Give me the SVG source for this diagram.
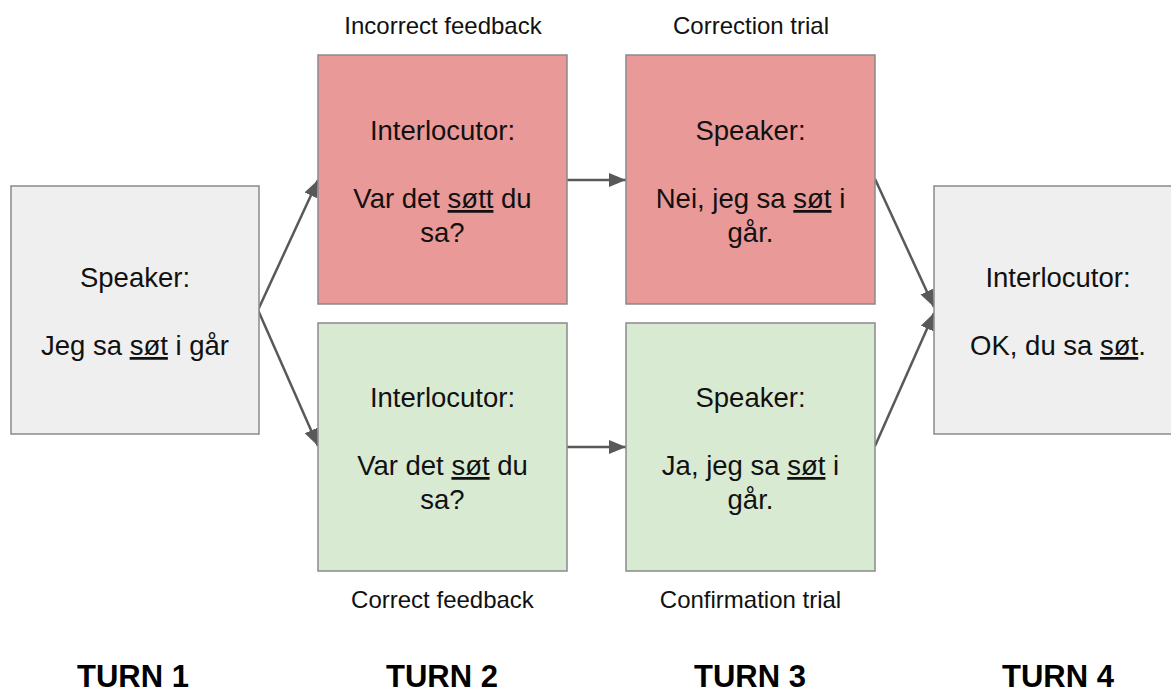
<svg xmlns="http://www.w3.org/2000/svg" width="1171" height="692" viewBox="0 0 1171 692">
<style>
.box{stroke:#8a8a8a;stroke-width:1.5}
.gray{fill:#efefef}
.red{fill:#ea9999}
.green{fill:#d9ead3}
.t{font-family:"Liberation Sans",Arial,sans-serif;font-size:27.5px;fill:#111;text-anchor:middle}
.lab{font-family:"Liberation Sans",Arial,sans-serif;font-size:24px;fill:#111;text-anchor:middle}
.turn{font-family:"Liberation Sans",Arial,sans-serif;font-size:31px;font-weight:bold;fill:#000;text-anchor:middle}
.u{text-decoration:underline}
.c{stroke:#595959;stroke-width:2.5;fill:none;marker-end:url(#ah)}
</style>
<defs>
<marker id="ah" markerUnits="userSpaceOnUse" markerWidth="18" markerHeight="16" refX="17" refY="7" orient="auto">
<path d="M0,0 L17,7 L0,14 Z" fill="#595959"/>
</marker>
</defs>
<rect width="1171" height="692" fill="#fff"/>
<g id="connectors">
<line class="c" x1="258" y1="310" x2="318" y2="180"/>
<line class="c" x1="258" y1="310" x2="318" y2="446"/>
<line class="c" x1="567" y1="180" x2="626" y2="180"/>
<line class="c" x1="567" y1="447" x2="626" y2="447"/>
<line class="c" x1="875" y1="179" x2="934" y2="307"/>
<line class="c" x1="875" y1="446" x2="934" y2="313"/>
</g>
<g id="turn1-speaker">
<rect class="box gray" x="11" y="186" width="248" height="248"/>
<text class="t"><tspan x="135" y="287">Speaker:</tspan><tspan x="135" y="355">Jeg sa <tspan class="u">søt</tspan> i går</tspan></text>
</g>
<g id="turn2-incorrect">
<rect class="box red" x="318" y="55" width="249" height="249"/>
<text class="t"><tspan x="442.5" y="140">Interlocutor:</tspan><tspan x="442.5" y="208">Var det <tspan class="u">søtt</tspan> du</tspan><tspan x="442.5" y="242">sa?</tspan></text>
</g>
<g id="turn2-correct">
<rect class="box green" x="318" y="323" width="249" height="248"/>
<text class="t"><tspan x="442.5" y="407">Interlocutor:</tspan><tspan x="442.5" y="475">Var det <tspan class="u">søt</tspan> du</tspan><tspan x="442.5" y="509">sa?</tspan></text>
</g>
<g id="turn3-correction">
<rect class="box red" x="626" y="55" width="249" height="249"/>
<text class="t"><tspan x="750.5" y="140">Speaker:</tspan><tspan x="750.5" y="208">Nei, jeg sa <tspan class="u">søt</tspan> i</tspan><tspan x="750.5" y="242">går.</tspan></text>
</g>
<g id="turn3-confirmation">
<rect class="box green" x="626" y="323" width="249" height="248"/>
<text class="t"><tspan x="750.5" y="407">Speaker:</tspan><tspan x="750.5" y="475">Ja, jeg sa <tspan class="u">søt</tspan> i</tspan><tspan x="750.5" y="509">går.</tspan></text>
</g>
<g id="turn4-interlocutor">
<rect class="box gray" x="934" y="186" width="248" height="248"/>
<text class="t"><tspan x="1058" y="287">Interlocutor:</tspan><tspan x="1058" y="355">OK, du sa <tspan class="u">søt</tspan>.</tspan></text>
</g>
<g id="labels">
<text class="lab" x="443" y="34">Incorrect feedback</text>
<text class="lab" x="751" y="34">Correction trial</text>
<text class="lab" x="442.5" y="608">Correct feedback</text>
<text class="lab" x="750.5" y="608">Confirmation trial</text>
<text class="turn" x="133" y="687">TURN 1</text>
<text class="turn" x="442" y="687">TURN 2</text>
<text class="turn" x="750" y="687">TURN 3</text>
<text class="turn" x="1058" y="687">TURN 4</text>
</g>
</svg>
